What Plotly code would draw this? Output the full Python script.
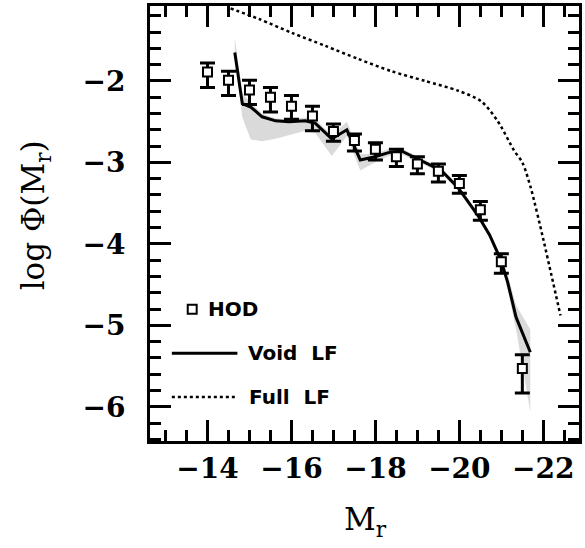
import plotly.graph_objects as go

# ---------------- data ----------------
hod_mag = [-14.0, -14.5, -15.0, -15.5, -16.0, -16.5, -17.0, -17.5,
           -18.0, -18.5, -19.0, -19.5, -20.0, -20.5, -21.0, -21.5]
hod_logphi = [-1.89, -1.99, -2.11, -2.20, -2.31, -2.43, -2.62, -2.73,
              -2.84, -2.93, -3.02, -3.11, -3.26, -3.58, -4.22, -5.53]
hod_err_plus = [0.11, 0.11, 0.12, 0.12, 0.13, 0.12, 0.09, 0.08,
                0.08, 0.09, 0.09, 0.09, 0.10, 0.10, 0.10, 0.17]
hod_err_minus = [0.19, 0.19, 0.18, 0.18, 0.16, 0.18, 0.12, 0.13,
                 0.13, 0.12, 0.12, 0.13, 0.12, 0.13, 0.14, 0.30]

void_mag = [-14.65, -14.83, -15.03, -15.30, -15.62, -15.94, -16.33, -16.57,
            -16.96, -17.32, -17.64, -17.99, -18.31, -18.62, -18.94, -19.57,
            -19.97, -20.44, -20.72, -20.99, -21.15, -21.35, -21.69]
void_logphi = [-1.65, -2.28, -2.32, -2.44, -2.49, -2.50, -2.49, -2.52,
               -2.71, -2.60, -2.97, -2.93, -2.88, -2.86, -2.94, -3.10,
               -3.31, -3.65, -3.89, -4.20, -4.47, -4.90, -5.33]
void_band_hi = [-1.47, -2.15, -2.27, -2.40, -2.46, -2.47, -2.45, -2.47,
                -2.67, -2.50, -2.90, -2.89, -2.84, -2.83, -2.91, -3.07,
                -3.28, -3.62, -3.86, -4.15, -4.38, -4.75, -5.05]
void_band_lo = [-1.70, -2.45, -2.72, -2.74, -2.71, -2.67, -2.61, -2.64,
                -2.92, -2.68, -3.10, -3.00, -2.92, -2.90, -2.98, -3.13,
                -3.35, -3.69, -3.93, -4.25, -4.56, -5.05, -6.06]

full_mag = [-14.55, -15.23, -16.01, -16.81, -17.59, -18.38, -19.18, -19.97,
            -20.52, -20.91, -21.31, -21.50, -21.70, -21.98, -22.06, -22.41]
full_logphi = [-1.11, -1.24, -1.41, -1.57, -1.73, -1.88, -2.00, -2.12,
               -2.25, -2.49, -2.86, -3.00, -3.31, -3.90, -4.08, -4.88]

x_tickvals = [-14, -16, -18, -20, -22]
x_ticktext = ["\u221214", "\u221216", "\u221218", "\u221220", "\u221222"]
y_tickvals = [-2, -3, -4, -5, -6]
y_ticktext = ["\u22122", "\u22123", "\u22124", "\u22125", "\u22126"]

legend_labels = ["HOD", "Void  LF", "Full  LF"]

# ---------------- figure ----------------
fig = go.Figure()

# shaded band around void LF
fig.add_trace(go.Scatter(
    x=void_mag + void_mag[::-1],
    y=void_band_hi + void_band_lo[::-1],
    fill="toself", fillcolor="#dadada", line=dict(width=0),
    mode="lines", hoverinfo="skip", showlegend=False))

# full LF (dotted)
fig.add_trace(go.Scatter(
    x=full_mag, y=full_logphi, mode="lines",
    line=dict(color="black", width=2.5, dash="dot", shape="spline", smoothing=0.8),
    showlegend=False))

# void LF (solid)
fig.add_trace(go.Scatter(
    x=void_mag, y=void_logphi, mode="lines",
    line=dict(color="black", width=3), showlegend=False))

# HOD points with asymmetric errors
fig.add_trace(go.Scatter(
    x=hod_mag, y=hod_logphi, mode="markers",
    marker=dict(symbol="square", size=9, color="white",
                line=dict(color="black", width=2)),
    error_y=dict(type="data", symmetric=False, array=hod_err_plus,
                 arrayminus=hod_err_minus, color="black",
                 thickness=3, width=7.5),
    showlegend=False))

L, R, T, B = 150, 3, 5, 107
W, H = 585, 548
pw, ph = W - L - R, H - T - B


def px(xpix):
    return (xpix - L) / pw


def py(ypix):
    return (H - B - ypix) / ph


shapes = []
# legend glyphs
shapes.append(dict(type="rect", xref="paper", yref="paper",
                   x0=px(188), x1=px(197), y0=py(313.5), y1=py(304.5),
                   line=dict(color="black", width=2), fillcolor="white"))
shapes.append(dict(type="line", xref="paper", yref="paper",
                   x0=px(172), x1=px(238), y0=py(353), y1=py(353),
                   line=dict(color="black", width=3)))
shapes.append(dict(type="line", xref="paper", yref="paper",
                   x0=px(172), x1=px(238), y0=py(397), y1=py(397),
                   line=dict(color="black", width=2.5, dash="dot")))

annotations = []
leg_font = dict(family="DejaVu Sans", size=20, color="black")
for lbl, xx, yy in zip(legend_labels, [206, 247, 248], [309, 353, 397]):
    annotations.append(dict(text="<b>%s</b>" % lbl, xref="paper", yref="paper",
                            x=px(xx), y=py(yy), xanchor="left", yanchor="middle",
                            showarrow=False, font=leg_font))

title_font = dict(family="DejaVu Serif", size=31, color="black")
annotations.append(dict(text="log \u03a6(M<sub>r</sub>)", xref="paper", yref="paper",
                        x=px(35), y=py(215), textangle=-90, showarrow=False,
                        xanchor="center", yanchor="middle", font=title_font))
annotations.append(dict(text="M<sub>r</sub>", xref="paper", yref="paper",
                        x=px(367), y=py(522), showarrow=False,
                        xanchor="center", yanchor="middle", font=title_font))

axis_common = dict(showgrid=False, zeroline=False, showline=True, linewidth=3,
                   linecolor="black", mirror="allticks", ticks="inside",
                   ticklen=21, tickwidth=3, tickcolor="black",
                   tickfont=dict(family="DejaVu Serif", size=28, color="black",
                                 weight="bold"))

fig.update_xaxes(range=[-12.63, -22.85], tickmode="array",
                 tickvals=x_tickvals, ticktext=x_ticktext,
                 minor=dict(tickmode="linear", tick0=0, dtick=0.5, ticks="inside",
                            ticklen=11, tickwidth=3, tickcolor="black"),
                 **axis_common)
fig.update_yaxes(range=[-6.42, -1.08], tickmode="array",
                 tickvals=y_tickvals, ticktext=y_ticktext,
                 ticklabelstandoff=16,
                 minor=dict(tickmode="linear", tick0=0, dtick=0.2, ticks="inside",
                            ticklen=11, tickwidth=3, tickcolor="black"),
                 **axis_common)

fig.update_layout(width=W, height=H,
                  margin=dict(l=L, r=R, t=T, b=B, pad=0),
                  paper_bgcolor="white", plot_bgcolor="white",
                  shapes=shapes, annotations=annotations, showlegend=False)

fig.write_html("out.html", config={"displayModeBar": False},
               post_script="document.body.style.margin='0';"
                           "document.body.style.padding='0';")
